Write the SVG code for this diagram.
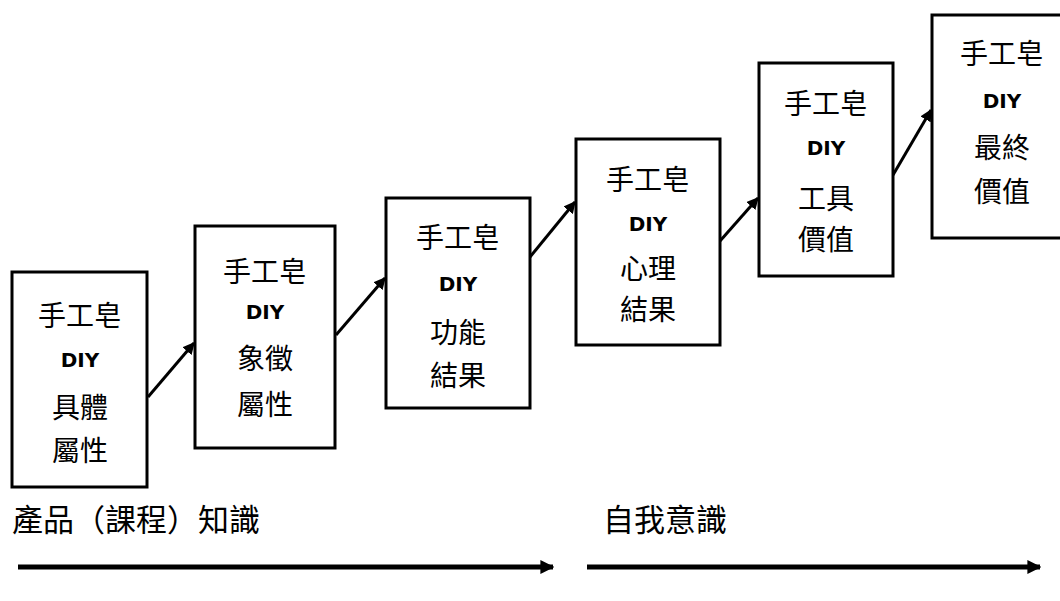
<svg xmlns="http://www.w3.org/2000/svg" width="1060" height="601" viewBox="0 0 1060 601">
<defs>
<style>
.box{fill:#fff;stroke:#000;stroke-width:3}
.cjk{font-family:"Noto Sans CJK TC","Noto Sans CJK SC",sans-serif;font-size:28px;fill:#000;text-anchor:middle}
.diy{font-family:"DejaVu Sans",sans-serif;font-weight:bold;font-size:20px;fill:#000;text-anchor:middle}
.lbl{font-family:"Noto Sans CJK TC","Noto Sans CJK SC",sans-serif;font-size:31px;fill:#000}
.conn{stroke:#000;stroke-width:3;fill:none}
.big{stroke:#000;stroke-width:5;fill:none}
</style>
<marker id="ah" viewBox="0 0 10 10" refX="9" refY="5" markerWidth="4" markerHeight="4" markerUnits="strokeWidth" orient="auto">
<path d="M0,0 L10,5 L0,10 z" fill="#000"/>
</marker>
<marker id="ahb" viewBox="0 0 10 10" refX="9" refY="5" markerWidth="2.8" markerHeight="2.8" markerUnits="strokeWidth" orient="auto">
<path d="M0,0 L10,5 L0,10 z" fill="#000"/>
</marker>
</defs>
<rect width="1060" height="601" fill="#fff"/>
<g id="connectors">
<line class="conn" x1="148" y1="397" x2="194" y2="343" marker-end="url(#ah)"/>
<line class="conn" x1="336" y1="335" x2="385" y2="278" marker-end="url(#ah)"/>
<line class="conn" x1="530" y1="257" x2="575" y2="202" marker-end="url(#ah)"/>
<line class="conn" x1="720" y1="241" x2="758" y2="198" marker-end="url(#ah)"/>
<line class="conn" x1="893" y1="175" x2="931" y2="110" marker-end="url(#ah)"/>
<line class="big" x1="18" y1="567" x2="553" y2="567" marker-end="url(#ahb)"/>
<line class="big" x1="587" y1="567" x2="1040" y2="567" marker-end="url(#ahb)"/>
</g>
<g id="node1">
<rect class="box" x="12" y="272" width="135" height="215"/>
<text class="cjk" x="80" y="326">手工皂</text>
<text class="diy" x="80" y="367">DIY</text>
<text class="cjk" x="80" y="418">具體</text>
<text class="cjk" x="80" y="461">屬性</text>
</g>
<g id="node2">
<rect class="box" x="195" y="226" width="140" height="222"/>
<text class="cjk" x="265" y="282">手工皂</text>
<text class="diy" x="265" y="319">DIY</text>
<text class="cjk" x="265" y="369">象徵</text>
<text class="cjk" x="265" y="415">屬性</text>
</g>
<g id="node3">
<rect class="box" x="386" y="198" width="144" height="210"/>
<text class="cjk" x="458" y="248">手工皂</text>
<text class="diy" x="458" y="291">DIY</text>
<text class="cjk" x="458" y="343">功能</text>
<text class="cjk" x="458" y="386">結果</text>
</g>
<g id="node4">
<rect class="box" x="576" y="139" width="144" height="206"/>
<text class="cjk" x="648" y="190">手工皂</text>
<text class="diy" x="648" y="231">DIY</text>
<text class="cjk" x="648" y="279">心理</text>
<text class="cjk" x="648" y="320">結果</text>
</g>
<g id="node5">
<rect class="box" x="759" y="63" width="134" height="213"/>
<text class="cjk" x="826" y="114">手工皂</text>
<text class="diy" x="826" y="155">DIY</text>
<text class="cjk" x="826" y="209">工具</text>
<text class="cjk" x="826" y="250">價值</text>
</g>
<g id="node6">
<rect class="box" x="932" y="15" width="140" height="223"/>
<text class="cjk" x="1002" y="64">手工皂</text>
<text class="diy" x="1002" y="108">DIY</text>
<text class="cjk" x="1002" y="158">最終</text>
<text class="cjk" x="1002" y="202">價值</text>
</g>
<g id="labels">
<text class="lbl" x="12" y="531">產品（課程）知識</text>
<text class="lbl" x="603" y="531">自我意識</text>
</g>
</svg>
